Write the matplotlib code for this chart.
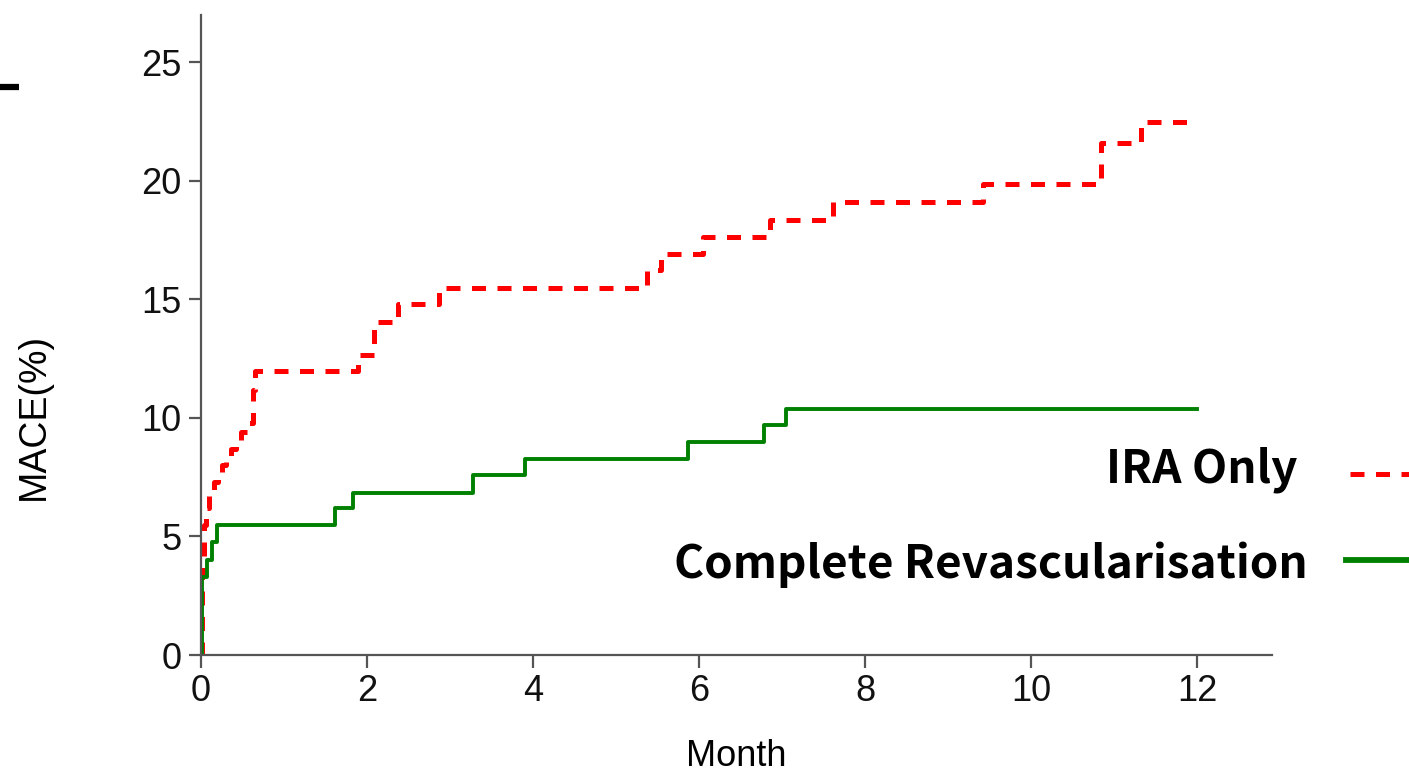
import matplotlib.pyplot as plt
from matplotlib.lines import Line2D

# Kaplan-Meier style cumulative MACE (%)
ira_t = [0, 0.01, 0.03, 0.06, 0.1, 0.15, 0.2, 0.25, 0.3, 0.36, 0.42, 0.48, 0.55, 0.63, 0.65,
         1.89, 2.08, 2.37, 2.86, 5.37, 5.54, 6.05, 6.85, 7.61, 9.42, 10.84, 11.32, 12.0]
ira_y = [0, 3.5, 5.5, 6.2, 6.9, 7.3, 7.6, 8.0, 8.3, 8.7, 9.0, 9.4, 9.8, 11.2, 12.0,
         12.67, 14.06, 14.82, 15.5, 16.26, 16.93, 17.65, 18.35, 19.1, 19.85, 21.6, 22.5, 22.5]

cr_t = [0, 0.01, 0.07, 0.13, 0.19, 1.61, 1.83, 3.28, 3.9, 5.87, 6.78, 7.04, 12.0]
cr_y = [0, 3.3, 4.0, 4.77, 5.49, 6.2, 6.84, 7.6, 8.28, 9.0, 9.7, 10.39, 10.39]

x_ticks = [0, 2, 4, 6, 8, 10, 12]
y_ticks = [0, 5, 10, 15, 20, 25]
labels = ['IRA Only', 'Complete Revascularisation']

plt.rcParams['font.family'] = ['Liberation Sans', 'DejaVu Sans']

fig = plt.figure(figsize=(14.09, 7.77), dpi=100)
ax = fig.add_axes([0.1427, 0.157, 0.7601, 0.8237])

red_dash = (2.8, 2.3)
ax.step(ira_t, ira_y, where='post', color='#ff0000', lw=3.6, dashes=red_dash)
ax.step(cr_t, cr_y, where='post', color='#008000', lw=2.8)

ax.set_xlim(0, 12.9)
ax.set_ylim(0, 27.0)
ax.set_xticks(x_ticks)
ax.set_yticks(y_ticks)
ax.margins(0)

for s in ['top', 'right']:
  ax.spines[s].set_visible(False)
for s in ['left', 'bottom']:
  ax.spines[s].set_color('#555555')
  ax.spines[s].set_linewidth(1.6)
ax.tick_params(direction='out', length=9, width=1.6, color='#555555',
  labelsize=26, labelcolor='#111111', pad=5)

ax.set_xlabel('Month', fontsize=26, labelpad=21)
ax.set_ylabel('MACE(%)', fontsize=27)
ax.yaxis.set_label_coords(-0.139, 0.372)

# legend drawn by hand, text right of axes with lines running off the figure
lab_font = ['Noto Sans CJK KR', 'DejaVu Sans']
fig.text(0.921, 0.395, labels[0], ha='right', va='center', fontsize=33,
  fontweight='bold', family=lab_font)
fig.text(0.928, 0.273, labels[1], ha='right', va='center', fontsize=33,
  fontweight='bold', family=lab_font)
fig.add_artist(Line2D([0.958, 1.01], [0.39, 0.39], transform=fig.transFigure,
  color='#ff0000', lw=3.6, dashes=red_dash))
fig.add_artist(Line2D([0.955, 1.01], [0.279, 0.279], transform=fig.transFigure,
  color='#008000', lw=4.2))

# small black mark at top-left of the picture
fig.add_artist(Line2D([0, 0.0135], [0.888, 0.888], transform=fig.transFigure,
  color='black', lw=4.5, solid_capstyle='butt'))

plt.savefig('out.png', dpi=100)
